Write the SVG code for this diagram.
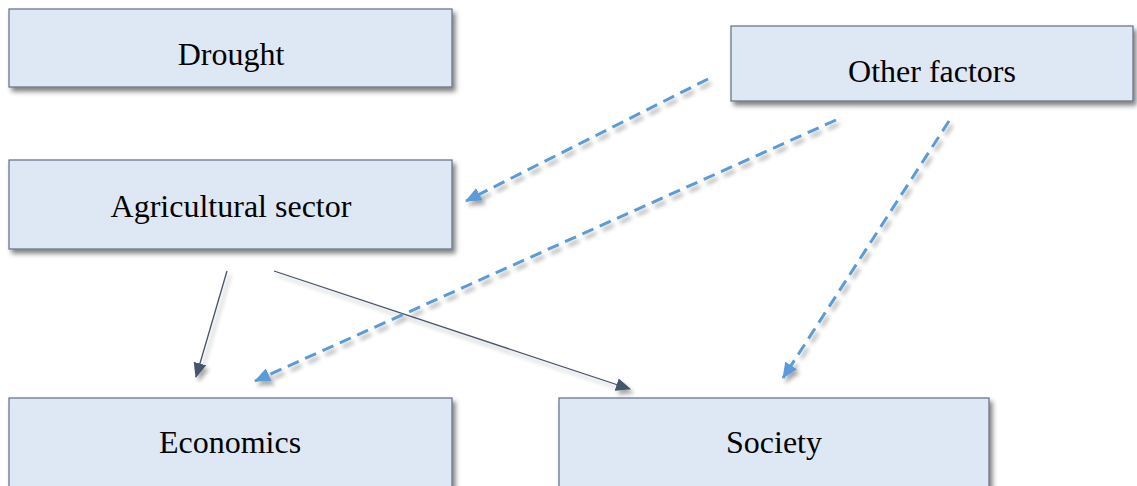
<svg xmlns="http://www.w3.org/2000/svg" width="1137" height="486" viewBox="0 0 1137 486">
<style>
.box{fill:#dee8f4;stroke:#5f6f85;stroke-width:1.2;filter:url(#sh)}
.lbl{font-family:"Liberation Serif","Times New Roman",serif;font-size:32px;fill:#000;text-anchor:middle}
.solid{stroke:#44546a;stroke-width:1.3;fill:none;marker-end:url(#ah);filter:url(#lsh)}
.dash{stroke:#5b9bd5;stroke-width:3;stroke-dasharray:12,7;fill:none;marker-end:url(#bh);filter:url(#lsh)}
</style>
<defs>
<filter id="sh" x="-10%" y="-20%" width="130%" height="160%">
<feGaussianBlur in="SourceAlpha" stdDeviation="2.5"/>
<feOffset dx="3" dy="4" result="b"/>
<feComponentTransfer><feFuncA type="linear" slope="0.5"/></feComponentTransfer>
<feMerge><feMergeNode/><feMergeNode in="SourceGraphic"/></feMerge>
</filter>
<filter id="lsh" x="-20%" y="-20%" width="140%" height="140%">
<feGaussianBlur in="SourceAlpha" stdDeviation="2"/>
<feOffset dx="3" dy="4"/>
<feComponentTransfer><feFuncA type="linear" slope="0.35"/></feComponentTransfer>
<feMerge><feMergeNode/><feMergeNode in="SourceGraphic"/></feMerge>
</filter>
<marker id="ah" markerWidth="15" markerHeight="13" refX="14" refY="6.5" orient="auto" markerUnits="userSpaceOnUse">
<path d="M0,0 L15,6.5 L0,13 z" fill="#44546a"/>
</marker>
<marker id="bh" markerWidth="16" markerHeight="14" refX="15" refY="7" orient="auto" markerUnits="userSpaceOnUse">
<path d="M0,0 L16,7 L0,14 z" fill="#5b9bd5"/>
</marker>
</defs>
<g id="connectors">
<line class="solid" x1="230" y1="105" x2="230" y2="147"/>
<line class="solid" x1="227" y1="271" x2="196" y2="377"/>
<line class="solid" x1="274" y1="271" x2="630" y2="389"/>
<line class="dash" x1="708" y1="79" x2="466" y2="201"/>
<line class="dash" x1="836" y1="120" x2="255" y2="381"/>
<line class="dash" x1="949" y1="121" x2="783" y2="378"/>
</g>
<g id="drought"><rect class="box" x="9" y="9" width="443" height="78"/><text class="lbl" x="231" y="65">Drought</text></g>
<g id="agri"><rect class="box" x="9" y="160" width="443" height="89"/><text class="lbl" x="231" y="217">Agricultural sector</text></g>
<g id="other"><rect class="box" x="731" y="26" width="402" height="75"/><text class="lbl" x="932" y="82">Other factors</text></g>
<g id="economics"><rect class="box" x="9" y="398" width="443" height="100"/><text class="lbl" x="230" y="453">Economics</text></g>
<g id="society"><rect class="box" x="559" y="398" width="430" height="100"/><text class="lbl" x="774" y="453">Society</text></g>
</svg>
